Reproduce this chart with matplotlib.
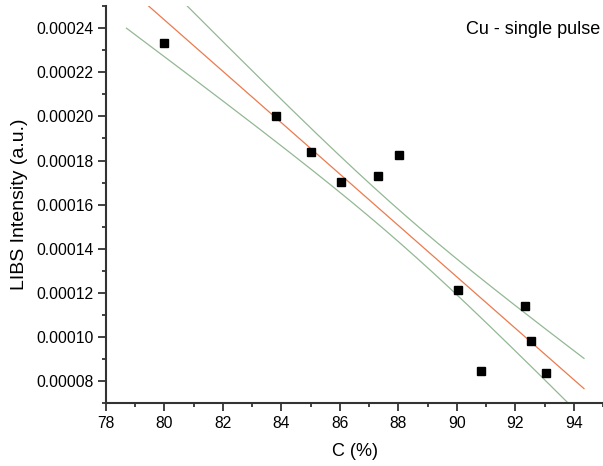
import numpy as np
import matplotlib.pyplot as plt
from matplotlib.ticker import MultipleLocator

plt.rcParams['font.family'] = ['Liberation Sans', 'DejaVu Sans']

# concentration (%) and LIBS line intensity (a.u.)
conc = [80.0, 83.82, 85.02, 86.03, 87.32, 88.03, 90.03, 92.34, 92.55, 90.83, 93.04]
intensity = [0.0002333, 0.0002000, 0.0001837, 0.0001701, 0.0001728, 0.0001825,
             0.0001213, 0.0001143, 0.0000982, 0.0000846, 0.0000836]

# linear fit with confidence band
x = np.array(conc)
y = np.array(intensity)
n = len(x)
slope, icpt = np.polyfit(x, y, 1)
resid = y - (slope * x + icpt)
s = np.sqrt(np.sum(resid ** 2) / (n - 2))
sxx = np.sum((x - x.mean()) ** 2)
t_val = 1.383

xf = np.linspace(78.7, 94.35, 300)
yf = slope * xf + icpt
half = t_val * s * np.sqrt(1.0 / n + (xf - x.mean()) ** 2 / sxx)

fig = plt.figure(figsize=(6.03, 4.66), dpi=100)
ax = fig.add_axes([106 / 603, 62.7 / 466, 497 / 603, 397.3 / 466])

ax.plot(xf, yf + half, color='#93b894', lw=0.9)
ax.plot(xf, yf - half, color='#93b894', lw=0.9)
ax.plot(xf, yf, color='#ec7a4e', lw=0.9)
ax.plot(x, y, 's', color='black', ms=6, zorder=5)

ax.set_xlim(78, 95.0)
ax.set_ylim(0.00007, 0.00025)
ax.xaxis.set_major_locator(MultipleLocator(2))
ax.xaxis.set_minor_locator(MultipleLocator(1))
ax.yaxis.set_major_locator(MultipleLocator(0.00002))
ax.yaxis.set_minor_locator(MultipleLocator(0.00001))
ax.yaxis.set_major_formatter(plt.FuncFormatter(lambda v, p: '%.5f' % v))

for side in ['top', 'right']:
    ax.spines[side].set_visible(False)
for side in ['left', 'bottom']:
    ax.spines[side].set_linewidth(1.5)
    ax.spines[side].set_color('#333333')

ax.tick_params(which='major', length=6, width=1.3, color='#333333', labelsize=11.3, pad=3)
ax.tick_params(which='minor', length=3, width=1.3, color='#333333')

ax.set_xlabel('C (%)', fontsize=13, labelpad=9)
ax.set_ylabel('LIBS Intensity (a.u.)', fontsize=14, labelpad=6)

ax.text(0.994, 0.94, 'Cu - single pulse', transform=ax.transAxes,
        ha='right', va='center', fontsize=13)

fig.savefig('out.png', dpi=100)
